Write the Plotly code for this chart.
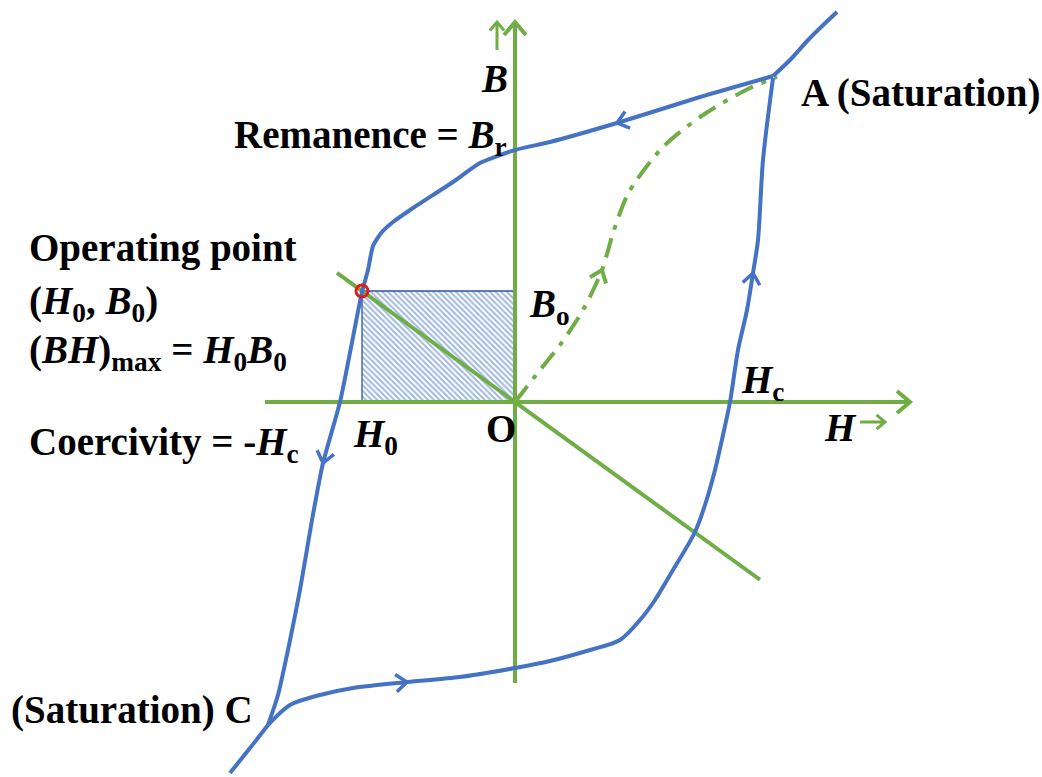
import math
import plotly.graph_objects as go

# ---- B-H hysteresis loop of a permanent magnet (H, B in drawing units, O at origin) ----
# Descending branch: A (positive saturation) -> remanence -> coercivity -> C
upper_h = [258, 185, 102, 35, 0, -35, -62, -102, -122, -133, -142, -147, -153,
           -175, -192, -203, -215, -227, -237, -247]
upper_b = [326, 305, 279, 260, 252, 239, 220, 194, 180, 170, 156, 132, 110,
           0, -61, -118, -188, -248, -293, -323]

# Ascending branch: C (negative saturation) -> +Hc -> A
lower_h = [-247, -225, -195, -162, -108, -55, 0, 35, 75, 105, 125, 140, 155,
           180, 190, 200, 208, 215, 223, 232, 238, 243, 248, 258]
lower_b = [-323, -303, -293, -286, -280, -275, -266, -259, -248, -238, -218, -198, -173,
           -130, -103, -68, -33, 0, 52, 92, 129, 162, 242, 324]

# Saturation tails beyond A and C
tail_a_h = [258, 275, 295, 322]
tail_a_b = [326, 342, 364, 390]
tail_c_h = [-247, -265, -285]
tail_c_b = [-323, -346, -371]

# Initial magnetisation curve O -> A
init_h = [0, 25, 45, 68, 87, 99, 114, 148, 188, 235, 262]
init_b = [0, 32, 57, 92, 132, 172, 210, 255, 287, 314, 325]

# Operating point on the demagnetisation curve
H0, B0 = -153, 111
load_line_h = [-178, 245]

# Axes extents
h_axis = [-250, 395]
b_axis = [-281, 380]

BLUE = "#4472C4"
GREEN = "#70AD47"
FONT = "Liberation Serif"


def chevron(th, tb, dh, db, length=14, angle=38):
    """Open arrowhead with its tip at (th, tb) pointing along (dh, db)."""
    n = math.hypot(dh, db)
    bh, bb = -dh / n, -db / n
    xs, ys = [], []
    for s in (1, -1):
        a = math.radians(angle) * s
        wx = bh * math.cos(a) - bb * math.sin(a)
        wy = bh * math.sin(a) + bb * math.cos(a)
        xs.append(th + length * wx)
        ys.append(tb + length * wy)
    return [xs[0], th, xs[1], None], [ys[0], tb, ys[1], None]


def curve_arrow(hs, bs, i, **kw):
    dh = hs[i + 1] - hs[i - 1]
    db = bs[i + 1] - bs[i - 1]
    return chevron(hs[i], bs[i], dh, db, **kw)


fig = go.Figure()


def line(x, y, color, width, dash="solid", shape="linear", smoothing=1.0):
    fig.add_trace(go.Scatter(x=x, y=y, mode="lines", hoverinfo="skip",
                             line=dict(color=color, width=width, dash=dash,
                                       shape=shape, smoothing=smoothing)))


# Hatched (BH)max rectangle
fig.add_trace(go.Scatter(
    x=[H0, 0, 0, H0, H0], y=[0, 0, B0, B0, 0], mode="lines", fill="toself",
    fillcolor="white", hoverinfo="skip",
    fillpattern=dict(shape="\\", fgcolor=BLUE, bgcolor="white", size=4, solidity=0.5),
    line=dict(color="#2F5597", width=1.3)))

# Coordinate axes with arrowheads
line(h_axis, [0, 0], GREEN, 4)
line([0, 0], b_axis, GREEN, 4)
ax, ay = chevron(h_axis[1], 0, 1, 0, length=17, angle=40)
line(ax, ay, GREEN, 4)
ax, ay = chevron(0, b_axis[1], 0, 1, length=17, angle=40)
line(ax, ay, GREEN, 4)

# Small direction arrows beside the axis letters
line([-18, -18], [352, 380], GREEN, 3)
ax, ay = chevron(-18, 380, 0, 1, length=11, angle=40)
line(ax, ay, GREEN, 3)
line([345, 370], [-20, -20], GREEN, 3)
ax, ay = chevron(370, -20, 1, 0, length=11, angle=40)
line(ax, ay, GREEN, 3)

# Load line through O and the operating point
line(load_line_h, [B0 / H0 * h for h in load_line_h], GREEN, 4)

# Initial magnetisation curve
line(init_h, init_b, GREEN, 4, dash="20px,9px,5px,9px", shape="spline", smoothing=0.8)
ax, ay = curve_arrow(init_h, init_b, 4)
line(ax, ay, GREEN, 4)

# Hysteresis loop
line(upper_h, upper_b, BLUE, 4, shape="spline", smoothing=0.6)
line(lower_h, lower_b, BLUE, 4, shape="spline", smoothing=0.8)
line(tail_a_h, tail_a_b, BLUE, 4, shape="spline")
line(tail_c_h, tail_c_b, BLUE, 4, shape="spline")
for hs, bs, i in [(upper_h, upper_b, 2), (upper_h, upper_b, 14),
                  (lower_h, lower_b, 4), (lower_h, lower_b, 20)]:
    ax, ay = curve_arrow(hs, bs, i)
    line(ax, ay, BLUE, 3.5)

# Operating point marker
fig.add_trace(go.Scatter(x=[H0], y=[B0], mode="markers", hoverinfo="skip",
                         marker=dict(symbol="circle-open", size=12, color="#E31A1C",
                                     line=dict(width=3, color="#E31A1C"))))

# Labels: (text, h, b, anchor)
labels = [
    ("<b><i>B</i></b>", -21, 324, "center"),
    ("<b>Remanence = <i>B</i><sub>r</sub></b>", -283, 265, "left"),
    ("<b>A (Saturation)</b>", 284, 309, "left"),
    ("<b>Operating point</b>", -488, 154, "left"),
    ("<b>(<i>H</i><sub>0</sub>, <i>B</i><sub>0</sub>)</b>", -488, 99, "left"),
    ("<b>(<i>BH</i>)<sub>max</sub> = <i>H</i><sub>0</sub><i>B</i><sub>0</sub></b>", -488, 50, "left"),
    ("<b>Coercivity = -<i>H</i><sub>c</sub></b>", -488, -42, "left"),
    ("<b><i>H</i><sub>0</sub></b>", -164, -34, "left"),
    ("<b>O</b>", -31, -26, "left"),
    ("<b><i>B</i><sub>o</sub></b>", 12, 96, "left"),
    ("<b><i>H</i><sub>c</sub></b>", 224, 20, "left"),
    ("<b><i>H</i></b>", 307, -25, "left"),
    ("<b>(Saturation) C</b>", -506, -308, "left"),
]
for text, h, b, anchor in labels:
    fig.add_annotation(x=h, y=b, text=text, showarrow=False, xanchor=anchor,
                       yanchor="middle", font=dict(family=FONT, size=39, color="black"))

fig.update_layout(
    width=1042, height=777, margin=dict(l=0, r=0, t=0, b=0),
    paper_bgcolor="white", plot_bgcolor="white", showlegend=False,
    xaxis=dict(range=[-515, 527], visible=False, fixedrange=True),
    yaxis=dict(range=[-375, 402], visible=False, fixedrange=True),
)

fig.write_html("out.html", config={"displayModeBar": False})
